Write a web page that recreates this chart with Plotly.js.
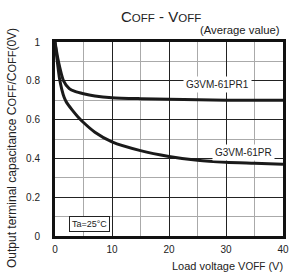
<!DOCTYPE html>
<html><head><meta charset="utf-8">
<script src="https://cdn.plot.ly/plotly-3.0.1.min.js"></script>
<style>html,body{margin:0;padding:0;background:#fff}</style>
</head><body>
<div id="chart" style="width:289px;height:273px"></div>
<script>
const voltagePR1 = [0, 0.6, 1.5, 2.5, 3.5, 5, 7, 10, 15, 20, 30, 40];
const pr1 = [1, 0.9, 0.8, 0.76, 0.745, 0.733, 0.722, 0.713, 0.708, 0.705, 0.70, 0.70];
const voltagePR = [0, 0.4, 0.8, 1.2, 1.6, 2, 3, 4, 5, 7, 10, 15, 20, 25, 30, 35, 40];
const pr = [1, 0.9, 0.81, 0.755, 0.715, 0.69, 0.65, 0.615, 0.585, 0.535, 0.485, 0.44, 0.41, 0.39, 0.38, 0.375, 0.37];
const seriesNames = ['G3VM-61PR1', 'G3VM-61PR'];
const xTicks = [0, 10, 20, 30, 40];
const yTicks = [0, 0.2, 0.4, 0.6, 0.8, 1];

const font = 'Liberation Sans, Arial, sans-serif';
const traces = [
  {x: voltagePR1, y: pr1, name: seriesNames[0], mode: 'lines', line: {color: '#1a1a1a', width: 3, shape: 'spline', smoothing: 0.7}},
  {x: voltagePR, y: pr, name: seriesNames[1], mode: 'lines', line: {color: '#1a1a1a', width: 3, shape: 'spline', smoothing: 0.7}}
];
const sc = (s, n) => '<span style="font-size:' + n + 'px">' + s + '</span>';
const layout = {
  width: 289, height: 273,
  margin: {l: 55, r: 6, t: 42, b: 37},
  showlegend: false,
  paper_bgcolor: '#fff', plot_bgcolor: '#fff',
  font: {family: font, size: 10, color: '#222'},
  xaxis: {range: [0, 40], tickvals: xTicks, ticktext: xTicks.map(String), showgrid: true, gridcolor: '#222', gridwidth: 1,
    minor: {dtick: 5, showgrid: true, gridcolor: '#aaa', gridwidth: 1},
    showline: true, mirror: true, linecolor: '#111', linewidth: 3, zeroline: false, ticks: '', tickfont: {size: 10, color: '#222'}, ticklabelstandoff: 2},
  yaxis: {range: [0, 1], tickvals: yTicks, ticktext: ['0', '0.2', '0.4', '0.6', '0.8', '1'], showgrid: true, gridcolor: '#222', gridwidth: 1,
    minor: {dtick: 0.1, showgrid: true, gridcolor: '#aaa', gridwidth: 1},
    showline: true, mirror: true, linecolor: '#111', linewidth: 3, zeroline: false, ticks: '', tickfont: {size: 10, color: '#222'}, ticklabelstandoff: 10},
  annotations: [
    {xref: 'paper', yref: 'paper', x: (161-55)/228, y: 1 + (42-16)/194, text: 'C' + sc('OFF', 11.5) + ' - V' + sc('OFF', 11.5), showarrow: false, font: {size: 15, color: '#222'}, xanchor: 'center', yanchor: 'middle', borderpad: 0},
    {xref: 'paper', yref: 'paper', x: (281-55)/228, y: 1 + (42-30)/194, text: '(Average value)', showarrow: false, font: {size: 11.3, color: '#222'}, xanchor: 'right', yanchor: 'middle', borderpad: 0},
    {xref: 'paper', yref: 'paper', x: (285-55)/228, y: -(266-236)/194, text: 'Load voltage V' + sc('OFF', 10) + ' (V)', showarrow: false, font: {size: 11, color: '#222'}, xanchor: 'right', yanchor: 'middle'},
    {xref: 'paper', yref: 'paper', x: -(55-12)/228, y: (236-148)/194, text: 'Output terminal capacitance C' + sc('OFF', 11) + '/C' + sc('OFF', 11) + '(0V)', showarrow: false, textangle: -90, font: {size: 12, color: '#222'}, xanchor: 'center', yanchor: 'middle'},
    {x: 28.5, y: 0.78, text: seriesNames[0], showarrow: false, bgcolor: '#fff', font: {size: 10, color: '#222'}, borderpad: 2},
    {x: 33, y: 0.43, text: seriesNames[1], showarrow: false, bgcolor: '#fff', font: {size: 10, color: '#222'}, borderpad: 2},
    {x: 6.1, y: 0.062, text: 'Ta=25°C', showarrow: false, bgcolor: '#fff', bordercolor: '#222', borderwidth: 1, borderpad: 2, font: {size: 9, color: '#222'}}
  ]
};
Plotly.newPlot('chart', traces, layout, {displayModeBar: false, staticPlot: true});
</script>
</body></html>
